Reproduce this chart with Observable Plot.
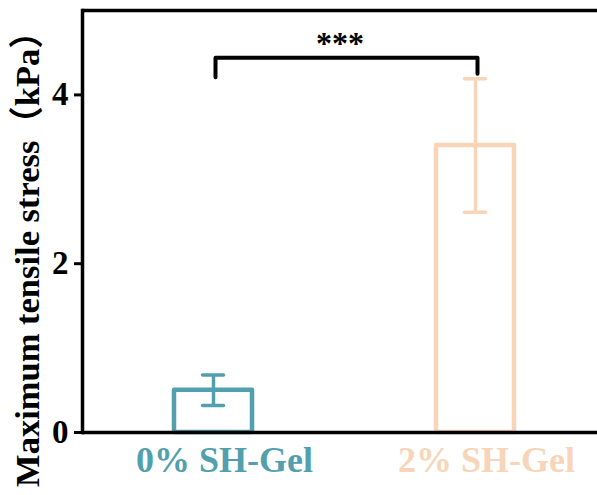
<!DOCTYPE html>
<html>
<head>
<meta charset="utf-8">
<script src="https://cdn.jsdelivr.net/npm/d3@7"></script>
<script src="https://cdn.jsdelivr.net/npm/@observablehq/plot@0.6"></script>
<style>
  html, body { margin: 0; padding: 0; background: #fff; }
  #chart { width: 597px; height: 495px; overflow: hidden; }
</style>
</head>
<body>
<div id="chart"></div>
<script>
// ---- data ----
const groups = ["0% SH-Gel", "2% SH-Gel"];
const means = [0.50, 3.40];
const errors = [0.18, 0.79];
const colors = ["#52A0AE", "#F8D5B8"];
const yTicks = [0, 2, 4];
const yTitle = "Maximum tensile stress（kPa）";
const sigLabel = "***";
const bracketX = ["0% SH-Gel", "0% SH-Gel", "2% SH-Gel", "2% SH-Gel"];
const bracketY = [4.21, 4.44, 4.44, 4.25];

const rows = groups.map((g, i) => ({g, m: means[i], e: errors[i], c: colors[i]}));
const bracket = bracketX.map((x, i) => ({x, y: bracketY[i]}));

const serif = "'Liberation Serif', 'Times New Roman', 'Noto Sans CJK SC', serif";

const chart = Plot.plot({
  width: 597,
  height: 495,
  marginLeft: 82,
  marginRight: 0,
  marginTop: 10,
  marginBottom: 63,
  style: {fontFamily: serif, background: "#fff"},
  x: {type: "band", domain: groups, range: [173.5, 514], paddingInner: 0.703, paddingOuter: 0, axis: null},
  y: {domain: [0, 5], axis: null},
  color: {type: "identity"},
  marks: [
    // bars (outline only)
    Plot.barY(rows, {x: "g", y: "m", fill: "white", stroke: "c", strokeWidth: 4.5, strokeLinejoin: "round"}),
    // error bars
    Plot.ruleX(rows, {x: "g", y1: d => d.m - d.e, y2: d => d.m + d.e, stroke: "c", strokeWidth: 3.5}),
    Plot.tickY(rows, {x: "g", y: d => d.m + d.e, stroke: "c", strokeWidth: 3.5, insetLeft: 28.5, insetRight: 28.5, strokeLinecap: "round"}),
    Plot.tickY(rows, {x: "g", y: d => d.m - d.e, stroke: "c", strokeWidth: 3.5, insetLeft: 28.5, insetRight: 28.5, strokeLinecap: "round"}),
    // frame lines: top, bottom, left
    Plot.ruleY([5], {stroke: "black", strokeWidth: 3.5}),
    Plot.ruleY([0], {stroke: "black", strokeWidth: 3.5}),
    Plot.frame({anchor: "left", stroke: "black", strokeWidth: 3.5}),
    // y axis
    Plot.axisY({
      ticks: yTicks, tickFormat: d => d, tickSize: 8, tickPadding: 6,
      strokeWidth: 3, fontSize: 33, fontWeight: "bold", fontFamily: serif, label: null
    }),
    // y title
    Plot.text([yTitle], {
      frameAnchor: "left", rotate: -90, dx: -44, dy: 29,
      textAnchor: "middle", lineAnchor: "bottom",
      fontSize: 34.5, fontWeight: "bold", fontFamily: serif, fill: "black"
    }),
    // category labels
    Plot.text(rows, {
      x: "g", y: 0, text: "g", fill: "c", dx: 11, dy: 14,
      lineAnchor: "top", fontSize: 36, fontWeight: "bold", fontFamily: serif
    }),
    // significance bracket
    Plot.line(bracket, {x: "x", y: "y", stroke: "black", strokeWidth: 4, strokeLinecap: "round", strokeLinejoin: "round", dx: 2}),
    Plot.text([sigLabel], {
      frameAnchor: "top", dy: 21, lineAnchor: "top",
      fontSize: 32, fontWeight: "bold", fontFamily: serif, fill: "black"
    })
  ]
});
document.getElementById("chart").appendChild(chart);
</script>
</body>
</html>
